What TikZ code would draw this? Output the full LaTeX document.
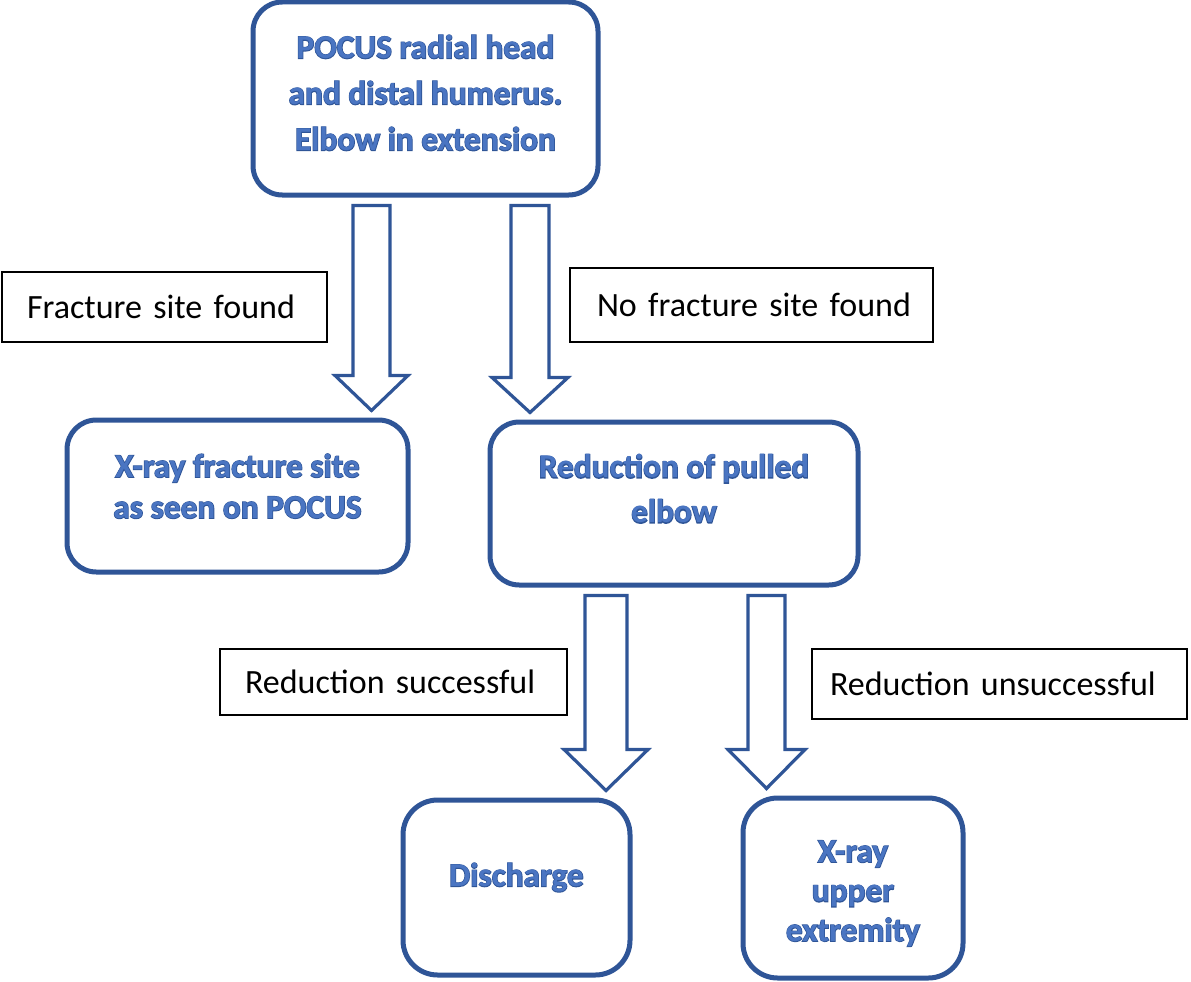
\documentclass[tikz,border=0pt]{standalone}
\usepackage{fontspec}
\setmainfont{Carlito}
\newfontface\cbold{Carlito Bold}
\newfontface\cboldthick{Carlito Bold}[FakeBold=4]
\usetikzlibrary{calc}
\definecolor{bbord}{HTML}{2F5597}
\definecolor{btext}{HTML}{4A75C2}
% outlined box text: #1 vertical lift, #2 lines
\newcommand\otext[2]{\raisebox{#1}[0pt][0pt]{%
  \makebox[0pt][l]{\color{bbord}\cboldthick\begin{tabular}{@{}c@{}}#2\end{tabular}}%
  {\color{btext}\cbold\begin{tabular}{@{}c@{}}#2\end{tabular}}}}
\newcommand\blockarrow[6]{% cx, half shaft, half head, head length, from, to
  \coordinate (ta) at ($(#1,0 |- #5.south)+(0,8)$);
  \coordinate (tb) at ($(#1,0 |- #6.north)+(0,-7)$);
  \draw[barrow] ($(ta)+(-#2,0)$) -- ($(ta)+(#2,0)$) -- ($(tb)+(#2,-#4)$) -- ($(tb)+(#3,-#4)$) -- (tb) -- ($(tb)+(-#3,-#4)$) -- ($(tb)+(-#2,-#4)$) -- cycle;}
\begin{document}
\begin{tikzpicture}[x=0.75pt,y=-0.75pt,
  box/.style={draw=bbord,line width=3.75pt,rounded corners=22pt,inner sep=0pt},
  lab/.style={draw=black,line width=1.4pt,align=left,font=\fontsize{25.5}{30}\selectfont,inner ysep=0pt},
  barrow/.style={draw=bbord,line width=2.4pt,fill=white,line join=miter}]
\useasboundingbox (0,0) rectangle (1191,981);
% main boxes
\node[box,minimum width={345*0.75pt},minimum height={193*0.75pt},
  font=\fontsize{25}{34.5}\selectfont] (top) at (425.5,98.5)
  {\otext{-3.8pt}{POCUS radial head\\and distal humerus.\\Elbow in extension}};
\node[box,minimum width={341*0.75pt},minimum height={152*0.75pt},
  font=\fontsize{25}{30.75}\selectfont] (xray) at (237.5,496)
  {\otext{-1.4pt}{X-ray fracture site\\as seen on POCUS}};
\node[box,minimum width={368*0.75pt},minimum height={163*0.75pt},
  font=\fontsize{25}{33.75}\selectfont] (red) at (674,503.5)
  {\otext{2.8pt}{Reduction of pulled\\elbow}};
\node[box,minimum width={227*0.75pt},minimum height={175*0.75pt},rounded corners=26pt,
  font=\fontsize{25}{30}\selectfont] (disc) at (516.5,887.5)
  {\otext{0.6pt}{Discharge}};
\node[box,minimum width={220*0.75pt},minimum height={180*0.75pt},rounded corners=26pt,
  font=\fontsize{25}{29.6}\selectfont] (xup) at (853,888)
  {\otext{-10.6pt}{X-ray\\upper\\extremity}};
% labels
\node[lab,minimum height={70*0.75pt},inner xsep={25*0.75pt},text width={275*0.75pt}] (lfrac) at (164.5,307) {\mbox{Fracture site found}};
\node[lab,minimum height={74*0.75pt},inner xsep={27*0.75pt},text width={309*0.75pt}] (lnofrac) at (751.5,305) {\mbox{No fracture site found}};
\node[lab,minimum height={66*0.75pt},inner xsep={25*0.75pt},text width={297*0.75pt}] (lsucc) at (393.5,682) {\mbox{Reduction successful}};
\node[lab,minimum height={70*0.75pt},inner xsep={18*0.75pt},text width={339*0.75pt}] (lunsucc) at (999.5,684) {\mbox{Reduction unsuccessful}};
% block arrows
\blockarrow{371.5}{18.5}{36.5}{35}{top}{xray}
\blockarrow{530}{19}{38}{35}{top}{red}
\blockarrow{606}{21}{42}{41}{red}{disc}
\blockarrow{766.5}{18.5}{38.5}{39}{red}{xup}
\end{tikzpicture}
\end{document}
